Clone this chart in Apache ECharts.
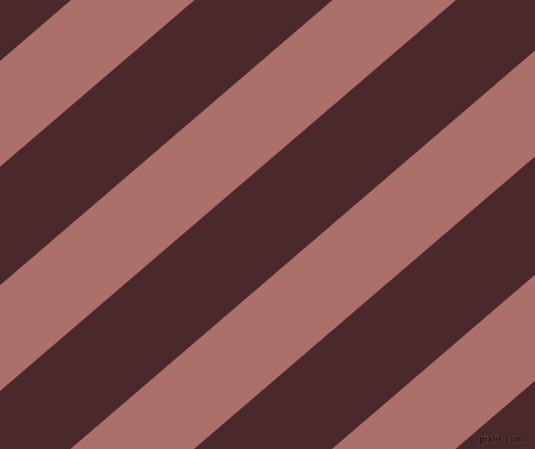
<!DOCTYPE html>
<html>
<head>
<meta charset="utf-8">
<script src="https://cdn.jsdelivr.net/npm/echarts@6/dist/echarts.min.js"></script>
<style>
  html, body { margin: 0; padding: 0; background: #4b282c; }
  #chart { width: 535px; height: 449px; }
</style>
</head>
<body>
<div id="chart"></div>
<script>
// stripe offsets measured along the top edge (u = x + slope * y)
const slope = 1.166;
const lightStart = [71, 332.5, 594, 855.5];
const lightEnd = [194.5, 456, 717.5, 979];
const width = 535;
const height = 449;

const chart = echarts.init(document.getElementById('chart'));

const stripes = lightStart.map((s, i) => [s, lightEnd[i]]);

chart.setOption({
    backgroundColor: '#4b282c',
    animation: false,
    grid: { left: 0, right: 0, top: 0, bottom: 0 },
    xAxis: { type: 'value', min: 0, max: width, show: false },
    yAxis: { type: 'value', min: 0, max: height, inverse: true, show: false },
    series: [{
        type: 'custom',
        clip: true,
        data: stripes,
        renderItem: (params, api) => {
            const u0 = api.value(0);
            const u1 = api.value(1);
            // corners of the band at the top and bottom edge
            const pts = [
                api.coord([u0, 0]),
                api.coord([u1, 0]),
                api.coord([u1 - slope * height, height]),
                api.coord([u0 - slope * height, height])
            ];
            return {
                type: 'polygon',
                shape: { points: pts },
                style: { fill: '#ac706a' }
            };
        }
    }],
    graphic: [{
        type: 'text',
        right: 11,
        bottom: 4,
        style: {
            text: 'pixlis.com',
            font: 'bold 9px "Liberation Sans"',
            fill: '#1f1012',
            stroke: 'rgba(150,100,100,0.45)',
            lineWidth: 1
        }
    }]
});
</script>
</body>
</html>
